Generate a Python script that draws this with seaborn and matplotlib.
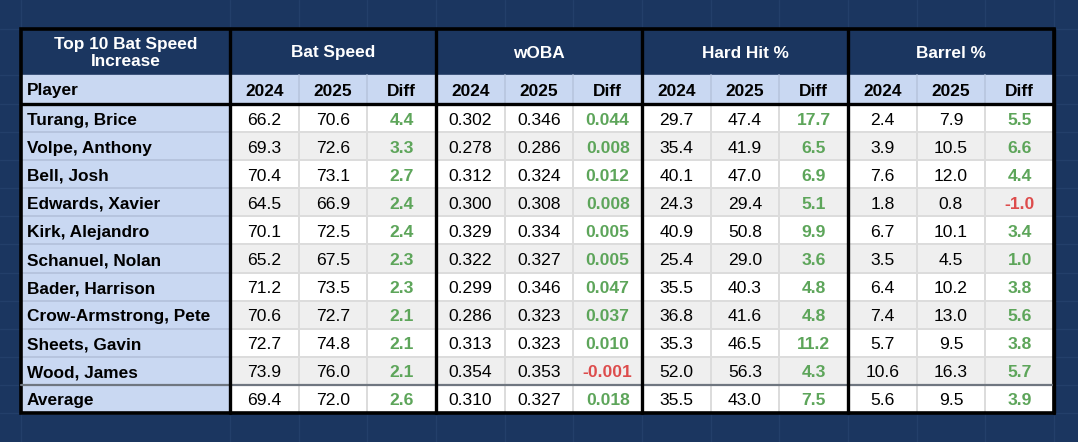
import numpy as np
import pandas as pd
import matplotlib
matplotlib.use("Agg")
import matplotlib.pyplot as plt
from matplotlib.colors import ListedColormap
from matplotlib.patches import Rectangle
import seaborn as sns

# ---------------- data ----------------
players = ["Turang, Brice", "Volpe, Anthony", "Bell, Josh", "Edwards, Xavier",
           "Kirk, Alejandro", "Schanuel, Nolan", "Bader, Harrison",
           "Crow-Armstrong, Pete", "Sheets, Gavin", "Wood, James"]
avg_label = "Average"
groups = ["Bat Speed", "wOBA", "Hard Hit %", "Barrel %"]
sub_cols = ["2024", "2025", "Diff"]
title_text = "Top 10 Bat Speed\nIncrease"
player_header = "Player"

bat_2024 = [66.2, 69.3, 70.4, 64.5, 70.1, 65.2, 71.2, 70.6, 72.7, 73.9]
bat_2025 = [70.6, 72.6, 73.1, 66.9, 72.5, 67.5, 73.5, 72.7, 74.8, 76.0]
bat_diff = [4.4, 3.3, 2.7, 2.4, 2.4, 2.3, 2.3, 2.1, 2.1, 2.1]
woba_2024 = [0.302, 0.278, 0.312, 0.300, 0.329, 0.322, 0.299, 0.286, 0.313, 0.354]
woba_2025 = [0.346, 0.286, 0.324, 0.308, 0.334, 0.327, 0.346, 0.323, 0.323, 0.353]
woba_diff = [0.044, 0.008, 0.012, 0.008, 0.005, 0.005, 0.047, 0.037, 0.010, -0.001]
hh_2024 = [29.7, 35.4, 40.1, 24.3, 40.9, 25.4, 35.5, 36.8, 35.3, 52.0]
hh_2025 = [47.4, 41.9, 47.0, 29.4, 50.8, 29.0, 40.3, 41.6, 46.5, 56.3]
hh_diff = [17.7, 6.5, 6.9, 5.1, 9.9, 3.6, 4.8, 4.8, 11.2, 4.3]
brl_2024 = [2.4, 3.9, 7.6, 1.8, 6.7, 3.5, 6.4, 7.4, 5.7, 10.6]
brl_2025 = [7.9, 10.5, 12.0, 0.8, 10.1, 4.5, 10.2, 13.0, 9.5, 16.3]
brl_diff = [5.5, 6.6, 4.4, -1.0, 3.4, 1.0, 3.8, 5.6, 3.8, 5.7]

avg_bat = [69.4, 72.0, 2.6]
avg_woba = [0.310, 0.327, 0.018]
avg_hh = [35.5, 43.0, 7.5]
avg_brl = [5.6, 9.5, 3.9]

decimals = [1, 3, 1, 1]

# ---------------- build table ----------------
series = [bat_2024, bat_2025, bat_diff, woba_2024, woba_2025, woba_diff,
          hh_2024, hh_2025, hh_diff, brl_2024, brl_2025, brl_diff]
avgs = avg_bat + avg_woba + avg_hh + avg_brl
values = np.array(series).T                      # 10 x 12
values = np.vstack([values, np.array(avgs)])     # 11 x 12
row_labels = players + [avg_label]
nrows, ncols = values.shape
stripe = np.array([[(i % 2) if i < len(players) else 0 for _ in range(ncols)]
                   for i in range(nrows)])

# ---------------- styling ----------------
sns.set_theme(style="white")
plt.rcParams["font.family"] = ["Liberation Sans", "DejaVu Sans"]

NAVY = "#1b3660"
BG_GRID = "#233f6a"
LIGHT_BLUE = "#c9d8f2"
GRAY_ROW = "#efefef"
GREEN = "#5da55a"
RED = "#dd4c4c"

W, H = 1078, 442
L, R = 21, 1054
T, H1, H2, B = 29, 75, 104, 413
X0 = 230
col_w = (R - X0) / ncols
row_h = (B - H2) / nrows
FS = 12.4

fig = plt.figure(figsize=(W / 100, H / 100), dpi=100)
fig.patch.set_facecolor(NAVY)

# background (spreadsheet look) in pixel coordinates
ax_bg = fig.add_axes([0, 0, 1, 1])
ax_bg.set_xlim(0, W)
ax_bg.set_ylim(H, 0)
ax_bg.set_facecolor(NAVY)
ax_bg.set_axis_off()
vx = [L, X0] + [X0 + k * col_w for k in range(1, ncols + 1)]
for x in vx:
    ax_bg.axvline(x, color=BG_GRID, lw=1.0, zorder=0)
hy = [T, H1, H2] + [H2 + k * row_h for k in range(1, nrows + 1)]
for y in hy:
    ax_bg.axhline(y, color=BG_GRID, lw=1.0, zorder=0)

# header row 1
ax_bg.add_patch(Rectangle((L, T), R - L, H1 - T, color=NAVY, zorder=1))
# sub header row
ax_bg.add_patch(Rectangle((L, H1), R - L, H2 - H1, color=LIGHT_BLUE, zorder=1))
# player column
ax_bg.add_patch(Rectangle((L, H2), X0 - L, B - H2, color=LIGHT_BLUE, zorder=1))
for k in range(1, nrows):
    ax_bg.plot([L, X0], [H2 + k * row_h] * 2, color="#b3c1da", lw=1.2, zorder=2)
for k in range(1, ncols):
    if k % 3 != 0:
        ax_bg.plot([X0 + k * col_w] * 2, [H1, H2], color="#b7c5de", lw=1.2, zorder=2)

ax_bg.text((L + X0) / 2, (T + H1) / 2 + 1, title_text, ha="center", va="center",
           color="white", fontsize=FS, fontweight="bold", linespacing=1.2, zorder=3)
for g, name in enumerate(groups):
    cx = X0 + (3 * g + 1.5) * col_w
    ax_bg.text(cx, (T + H1) / 2 + 1, name, ha="center", va="center",
               color="white", fontsize=FS, fontweight="bold", zorder=3)
ax_bg.text(L + 6, (H1 + H2) / 2 + 6, player_header, ha="left", va="baseline",
           color="black", fontsize=FS, fontweight="bold", zorder=3)
for k in range(ncols):
    ax_bg.text(X0 + (k + 0.5) * col_w, (H1 + H2) / 2 + 6.5, sub_cols[k % 3],
               ha="center", va="baseline", color="black", fontsize=FS,
               fontweight="bold", zorder=3)
for i, name in enumerate(row_labels):
    ax_bg.text(L + 6, H2 + (i + 0.5) * row_h + 6.5, name, ha="left", va="baseline",
               color="black", fontsize=FS, fontweight="bold", zorder=3)

# data block via seaborn heatmap
ax_hm = fig.add_axes([X0 / W, 1 - B / H, (R - X0) / W, (B - H2) / H])
sns.heatmap(pd.DataFrame(stripe), cmap=ListedColormap(["white", GRAY_ROW]),
            vmin=0, vmax=1, cbar=False, linewidths=1.3, linecolor="#dcdcdc",
            ax=ax_hm)
ax_hm.set_xticks([])
ax_hm.set_yticks([])
off = 6.5 / row_h
for i in range(nrows):
    for j in range(ncols):
        v = values[i, j]
        d = decimals[j // 3]
        txt = f"{v:.{d}f}"
        is_diff = (j % 3 == 2)
        if is_diff:
            color = GREEN if v >= 0 else RED
            weight = "bold"
        else:
            color = "black"
            weight = "normal"
        ax_hm.text(j + 0.5, i + 0.5 + off, txt, ha="center", va="baseline",
                   color=color, fontsize=FS + 0.2, fontweight=weight)

# overlay borders
ax_top = fig.add_axes([0, 0, 1, 1])
ax_top.set_xlim(0, W)
ax_top.set_ylim(H, 0)
ax_top.patch.set_visible(False)
ax_top.set_axis_off()
y_avg = H2 + len(players) * row_h
ax_top.plot([L, R], [y_avg, y_avg], color="#6f7680", lw=1.6)
ax_top.plot([L, R], [H2, H2], color="black", lw=2.4)
for g in range(0, 5):
    x = X0 + 3 * g * col_w
    ax_top.plot([x, x], [T, B], color="black", lw=2.4)
ax_top.add_patch(Rectangle((L, T), R - L, B - T, fill=False, ec="black", lw=2.6))

fig.savefig("out.png", dpi=100, facecolor=NAVY)
